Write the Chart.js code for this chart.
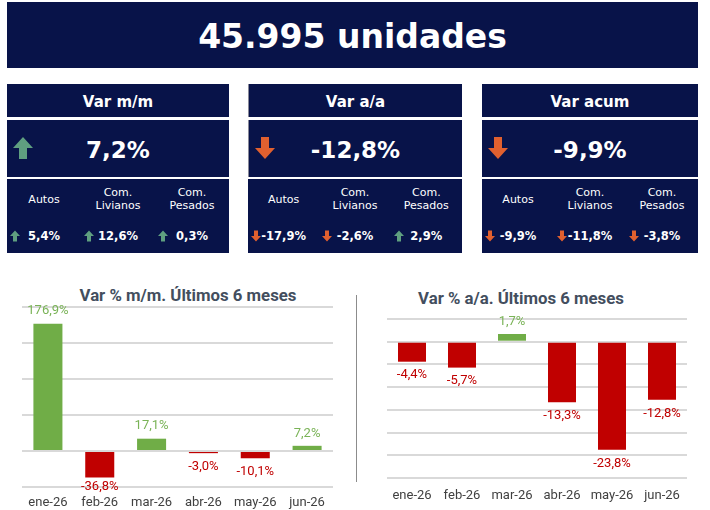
<!DOCTYPE html>
<html lang="es">
<head>
<meta charset="utf-8">
<title>Patentamientos</title>
<script src="https://cdn.jsdelivr.net/npm/chart.js@4.4.1/dist/chart.umd.min.js"></script>
<style>
    body {
        margin: 0;
        width: 710px;
        height: 510px;
        position: relative;
        overflow: hidden;
        background: #ffffff;
        font-family: "DejaVu Sans", sans-serif;
    }
    #banner {
        position: absolute;
        left: 7px;
        top: 2px;
        width: 691px;
        height: 66px;
        background: #081349;
        color: #ffffff;
        font-weight: bold;
        font-size: 33px;
        line-height: 70px;
        text-align: center;
    }
    .panel {
        position: absolute;
        top: 84px;
        height: 169px;
        color: #ffffff;
    }
    #panel0 { left: 7px; width: 222px; }
    #panel1 { left: 248px; width: 214px; }
    #panel2 { left: 482px; width: 216px; }
    .panel .head,
    .panel .main,
    .panel .segs {
        position: absolute;
        left: 0;
        right: 0;
        background: #081349;
    }
    .panel .head {
        top: 0;
        height: 33px;
        line-height: 37px;
        text-align: center;
        font-weight: bold;
        font-size: 15px;
    }
    .panel .main {
        top: 36px;
        height: 57px;
        line-height: 61px;
        text-align: center;
        font-weight: bold;
        font-size: 23px;
    }
    .panel .main svg {
        position: absolute;
        left: 6px;
        top: 17px;
    }
    .panel .segs {
        top: 95px;
        height: 74px;
        display: flex;
    }
    #panel1 .head, #panel1 .main { border-left: 1px solid #8a8a9a; }
    .seg {
        flex: 1;
        position: relative;
    }
    .seg .name {
        position: absolute;
        left: 0;
        right: 0;
        top: 6px;
        height: 28px;
        display: flex;
        align-items: center;
        justify-content: center;
        text-align: center;
        white-space: pre-line;
        font-size: 11px;
        line-height: 13px;
    }
    .seg .val {
        position: absolute;
        left: 0;
        right: 0;
        top: 50px;
        text-align: center;
        font-weight: bold;
        font-size: 11.5px;
        line-height: 14px;
    }
    .seg svg {
        position: absolute;
        left: 3px;
        top: 51px;
    }
    .chart-title {
        position: absolute;
        transform: translateX(-50%);
        white-space: nowrap;
        font-family: Roboto, sans-serif;
        font-weight: bold;
        font-size: 16.8px;
        line-height: 20px;
        color: #434e5e;
    }
    #title1 { left: 188px; top: 285px; }
    #title2 { left: 521px; top: 288px; }
    #divider {
        position: absolute;
        left: 356px;
        top: 295px;
        width: 1px;
        height: 187px;
        background: #8c8c8c;
    }
    #box1 { position: absolute; left: 16px; top: 300px; width: 324px; height: 211px; }
    #box2 { position: absolute; left: 380px; top: 310px; width: 314px; height: 192px; }
</style>
</head>
<body>
<div id="banner"></div>
<div class="panel" id="panel0"></div>
<div class="panel" id="panel1"></div>
<div class="panel" id="panel2"></div>
<div class="chart-title" id="title1">Var % m/m. Últimos 6 meses</div>
<div class="chart-title" id="title2">Var % a/a. Últimos 6 meses</div>
<div id="divider"></div>
<div id="box1"><canvas id="mmChart"></canvas></div>
<div id="box2"><canvas id="aaChart"></canvas></div>

<script>
// headline
const totalUnits = "45.995 unidades";

// kpi panels
const kpiTitles = ["Var m/m", "Var a/a", "Var acum"];
const kpiValues = [7.2, -12.8, -9.9];
const segmentNames = ["Autos", "Com.\nLivianos", "Com.\nPesados"];
const segmentMm = [5.4, 12.6, 0.3];
const segmentAa = [-17.9, -2.6, 2.9];
const segmentAcum = [-9.9, -11.8, -3.8];

// charts
const months = ["ene-26", "feb-26", "mar-26", "abr-26", "may-26", "jun-26"];
const varMm = [176.9, -36.8, 17.1, -3.0, -10.1, 7.2];
const varAa = [-4.4, -5.7, 1.7, -13.3, -23.8, -12.8];

const GREEN = "#70ad47";
const RED = "#c00000";
const ARROW_UP = "#5f9f80";
const ARROW_DOWN = "#e0602f";

document.addEventListener("DOMContentLoaded", function () {
    setPanels();
    setMmChart();
    setAaChart();
});

function fmt(v) {
    return v.toFixed(1).replace(".", ",") + "%";
}

function arrow(up, w, h) {
    const color = up ? ARROW_UP : ARROW_DOWN;
    // up arrow shape, flipped for down
    const pts = "10,0 20,11 14,11 14,22 6,22 6,11 0,11";
    const flip = up ? "" : ' transform="translate(0,22) scale(1,-1)"';
    return `<svg width="${w}" height="${h}" viewBox="0 0 20 22"><polygon points="${pts}" fill="${color}"${flip}/></svg>`;
}

function setPanels() {
    document.getElementById("banner").textContent = totalUnits;

    const segmentValues = [segmentMm, segmentAa, segmentAcum];

    kpiTitles.forEach((title, i) => {
        const panel = document.getElementById("panel" + i);
        let segs = "";
        segmentNames.forEach((name, j) => {
            const v = segmentValues[i][j];
            segs += `<div class="seg"><div class="name">${name}</div>${arrow(v >= 0, 10, 12)}<div class="val">${fmt(v)}</div></div>`;
        });
        panel.innerHTML =
            `<div class="head">${title}</div>` +
            `<div class="main">${arrow(kpiValues[i] >= 0, 20, 22)}${fmt(kpiValues[i])}</div>` +
            `<div class="segs">${segs}</div>`;
    });
}

// value labels on bar ends
const barLabels = {
    id: "barLabels",
    afterDatasetsDraw(chart) {
        const ctx = chart.ctx;
        const values = chart.data.datasets[0].data;
        const meta = chart.getDatasetMeta(0);
        const bottom = chart.chartArea.bottom;

        ctx.save();
        ctx.font = "13px Roboto";
        ctx.textAlign = "center";
        meta.data.forEach((bar, i) => {
            const v = values[i];
            if (v >= 0) {
                ctx.fillStyle = "#7ab357";
                ctx.textBaseline = "bottom";
                ctx.fillText(fmt(v), bar.x, bar.y - 6);
            } else {
                // keep label clear of the month labels
                ctx.fillStyle = RED;
                ctx.textBaseline = "top";
                ctx.fillText(fmt(v), bar.x, Math.min(bar.y + 7, bottom - 7));
            }
        });
        ctx.restore();
    },
};

function barOptions(min, max, step, padding, tickPad) {
    return {
        responsive: true,
        maintainAspectRatio: false,
        animation: false,
        layout: { padding: padding },
        plugins: {
            legend: { display: false },
            tooltip: { enabled: false },
        },
        scales: {
            x: {
                grid: { display: false, drawTicks: false },
                border: { display: false },
                ticks: {
                    color: "#404040",
                    font: { family: "Roboto", size: 13 },
                    padding: tickPad,
                    maxRotation: 0,
                    autoSkip: false,
                },
                afterFit: scale => {
                    scale.height = 24;
                },
            },
            y: {
                min: min,
                max: max,
                ticks: { display: false, stepSize: step },
                grid: { color: "#d9d9d9", lineWidth: 2, drawTicks: false },
                border: { display: false },
                afterFit: scale => {
                    scale.width = 0;
                },
            },
        },
    };
}

function setMmChart() {
    const ctx = document.getElementById("mmChart").getContext("2d");

    new Chart(ctx, {
        type: "bar",
        data: {
            labels: months,
            datasets: [
                {
                    data: varMm,
                    backgroundColor: varMm.map(v => (v >= 0 ? GREEN : RED)),
                    barPercentage: 0.56,
                    categoryPercentage: 1,
                },
            ],
        },
        options: barOptions(-50, 200, 50, { left: 6, right: 7, top: 7, bottom: 0 }, 8),
        plugins: [barLabels],
    });
}

function setAaChart() {
    const ctx = document.getElementById("aaChart").getContext("2d");

    new Chart(ctx, {
        type: "bar",
        data: {
            labels: months,
            datasets: [
                {
                    data: varAa,
                    backgroundColor: varAa.map(v => (v >= 0 ? GREEN : RED)),
                    barPercentage: 0.56,
                    categoryPercentage: 1,
                },
            ],
        },
        options: barOptions(-30, 5, 5, { left: 7, right: 7, top: 9, bottom: 0 }, 10),
        plugins: [barLabels],
    });
}
</script>
</body>
</html>
